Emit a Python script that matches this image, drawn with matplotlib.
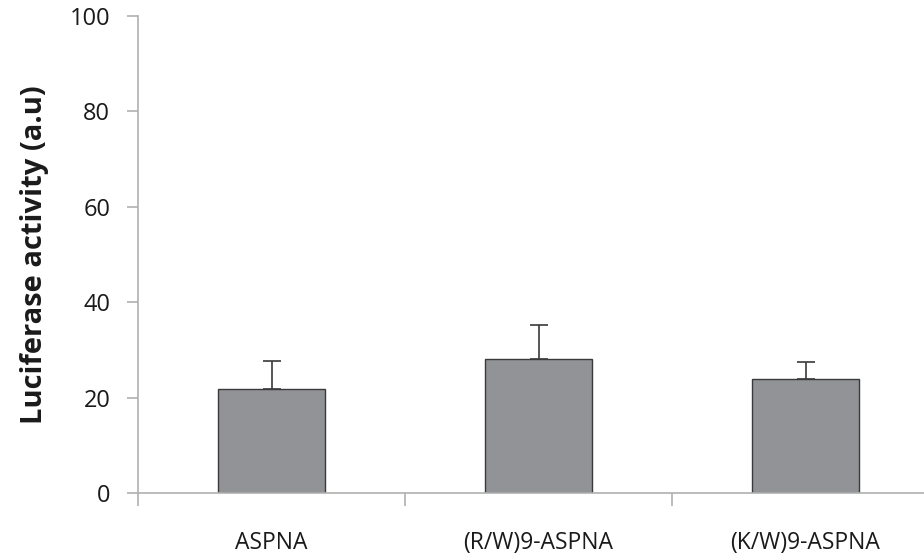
import matplotlib.pyplot as plt
import numpy as np

categories = ['ASPNA', '(R/W)9-ASPNA', '(K/W)9-ASPNA']
values = [21.9, 28.2, 23.8]
errors = [5.7, 7.0, 3.6]

plt.rcParams['font.family'] = ['Open Sans', 'DejaVu Sans']

fig = plt.figure(figsize=(9.24, 5.6), dpi=100)
ax = fig.add_axes([0.1494, 0.1196, 0.8669, 0.8518])

x = np.arange(len(categories))
ax.bar(x, values, width=0.4, color='#929396', edgecolor='#3a3a3a', linewidth=1.0, zorder=2)
ax.errorbar(x, values, yerr=[np.zeros(len(errors)), errors], fmt='none',
            ecolor='#3a3a3a', elinewidth=1.2, capsize=6.5, capthick=1.2, zorder=3)

ax.set_xlim(-0.5, 2.5)
ax.set_ylim(0, 100)
ax.set_yticks(np.arange(0, 101, 20))
ax.set_xticks(x)
ax.set_xticklabels(categories)
ax.set_xticks([-0.5, 0.5, 1.5], minor=True)

for s in ['top', 'right']:
    ax.spines[s].set_visible(False)
for s in ['left', 'bottom']:
    ax.spines[s].set_color('#b0b0b0')
    ax.spines[s].set_linewidth(1.2)

ax.tick_params(axis='x', which='major', length=0, pad=27, labelsize=16.5, colors='#1a1a1a')
ax.tick_params(axis='x', which='minor', length=9, width=1.2, color='#b0b0b0')
ax.tick_params(axis='y', length=8, width=1.2, color='#b0b0b0', labelsize=17,
               labelcolor='#1a1a1a', pad=12)

ax.set_ylabel('Luciferase activity (a.u)', fontsize=21, fontweight='bold',
              color='#1a1a1a', labelpad=15)

fig.savefig('out.png', dpi=100)
